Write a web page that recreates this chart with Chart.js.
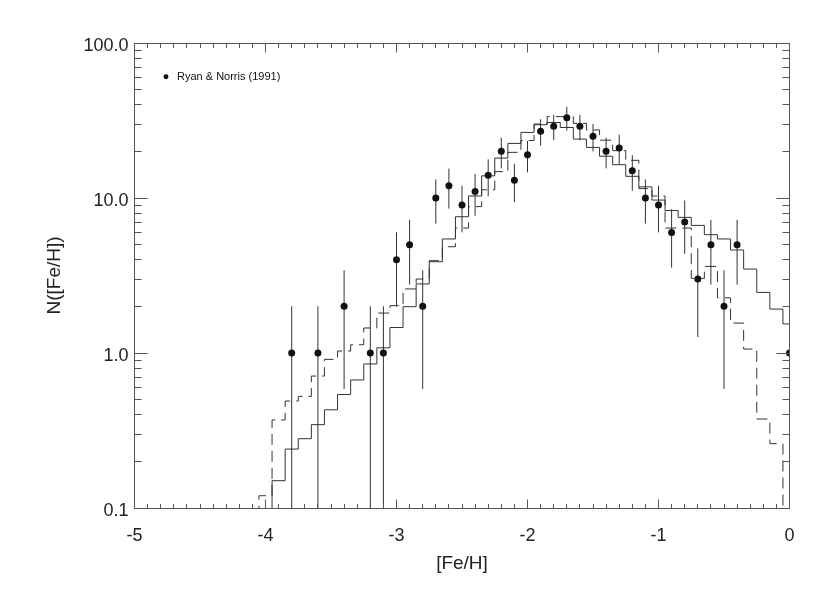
<!DOCTYPE html>
<html lang="en">
<head>
    <meta charset="UTF-8">
    <title>N([Fe/H]) distribution</title>
    <script src="https://cdn.jsdelivr.net/npm/chart.js"></script>
    <style>
        html, body { margin: 0; padding: 0; background: #fff; }
        #wrap { width: 830px; height: 593px; }
    </style>
</head>
<body>
    <div id="wrap"><canvas id="mdfChart" width="830" height="593"></canvas></div>

    <script>
        // model histogram bins (centres), 0.1 dex wide
        const binCenters = [-4.1, -4.0, -3.9, -3.8, -3.7, -3.6, -3.5, -3.4, -3.3, -3.2, -3.1, -3.0,
            -2.9, -2.8, -2.7, -2.6, -2.5, -2.4, -2.3, -2.2, -2.1, -2.0, -1.9, -1.8, -1.7, -1.6,
            -1.5, -1.4, -1.3, -1.2, -1.1, -1.0, -0.9, -0.8, -0.7, -0.6, -0.5, -0.4, -0.3, -0.2, -0.1, 0.0];
        const binWidth = 0.1;

        // solid model; values under 0.1 sit below the plot floor
        const modelSolid = [0.05, 0.07, 0.15, 0.24, 0.28, 0.345, 0.43, 0.54, 0.67, 0.85, 1.08, 1.46,
            1.99, 2.79, 3.88, 5.44, 7.57, 10.3, 13.9, 18.1, 22.5, 26.5, 29.7, 30.7, 28.5, 24.0,
            21.2, 18.6, 16.4, 13.8, 11.8, 9.7, 8.3, 7.5, 6.66, 5.8, 5.44, 4.62, 3.48, 2.46, 1.92, 1.54];

        // dashed model
        const modelDashed = [0.05, 0.12, 0.37, 0.49, 0.525, 0.71, 0.91, 1.03, 1.13, 1.45, 1.81, 2.02,
            2.59, 3.0, 3.94, 4.85, 6.4, 8.8, 11.3, 14.8, 19.7, 23.5, 30.0, 33.5, 33.5, 30.3,
            27.5, 23.6, 20.2, 17.5, 11.5, 10.3, 6.4, 6.4, 3.03, 3.62, 2.27, 1.56, 1.06, 0.375, 0.26, 0.05];

        // Ryan & Norris (1991) counts
        const obsFeH = [-3.8, -3.6, -3.4, -3.2, -3.1, -3.0, -2.9, -2.8, -2.7, -2.6, -2.5, -2.4, -2.3,
            -2.2, -2.1, -2.0, -1.9, -1.8, -1.7, -1.6, -1.5, -1.4, -1.3, -1.2, -1.1, -1.0, -0.9,
            -0.8, -0.7, -0.6, -0.5, -0.4, 0.0];
        const obsCount = [1, 1, 2, 1, 1, 4, 5, 2, 10, 12, 9, 11, 14, 20, 13, 19, 27, 29, 33, 29, 25,
            20, 21, 15, 10, 9, 6, 7, 3, 5, 2, 5, 1];

        const xTickValues = [-5, -4, -3, -2, -1, 0];
        const xMinorStep = 0.1;
        const yTickValues = [0.1, 1, 10, 100];

        const fontFamily = "'Liberation Sans', Arial, Helvetica, sans-serif";
        const axisColor = '#555';
        const lineColor = '#333';

        // histogram -> left-edge points for a stepped line
        function stepPoints(values) {
            const pts = binCenters.map((c, i) => ({ x: c - binWidth / 2, y: values[i] }));
            const last = binCenters.length - 1;
            pts.push({ x: binCenters[last] + binWidth / 2, y: values[last] });
            return pts;
        }

        // Poisson error bars, N +/- sqrt(N); a lower end of 0 is pushed off the bottom
        const errorBarData = obsFeH.flatMap((x, i) => {
            const s = Math.sqrt(obsCount[i]);
            return [{ x, y: Math.max(obsCount[i] - s, 0.01) }, { x, y: obsCount[i] + s }, { x, y: null }];
        });

        // IDL-like frame with inward ticks on all four sides
        const frameTicks = {
            id: 'frameTicks',
            afterDatasetsDraw(chart) {
                const { ctx, chartArea: a, scales: { x, y } } = chart;
                const al = (p) => Math.round(p - 0.5) + 0.5;
                const left = al(a.left), right = al(a.right), top = al(a.top), bottom = al(a.bottom);
                ctx.save();
                ctx.strokeStyle = axisColor;
                ctx.lineWidth = 1;
                ctx.beginPath();
                ctx.moveTo(left, top); ctx.lineTo(right, top); ctx.lineTo(right, bottom);

                const xMin = xTickValues[0], xMax = xTickValues[xTickValues.length - 1];
                const nX = Math.round((xMax - xMin) / xMinorStep);
                for (let i = 0; i <= nX; i++) {
                    const px = al(x.getPixelForValue(xMin + i * xMinorStep));
                    const len = i % 10 === 0 ? 9 : 4.5;
                    ctx.moveTo(px, bottom); ctx.lineTo(px, bottom - len);
                    ctx.moveTo(px, top); ctx.lineTo(px, top + len);
                }
                for (let d = 0; d < yTickValues.length; d++) {
                    const kMax = d === yTickValues.length - 1 ? 1 : 9;
                    for (let k = 1; k <= kMax; k++) {
                        const py = al(y.getPixelForValue(k * yTickValues[d]));
                        const len = k === 1 ? 13 : 7;
                        ctx.moveTo(left, py); ctx.lineTo(left + len, py);
                        ctx.moveTo(right, py); ctx.lineTo(right - len, py);
                    }
                }
                ctx.stroke();
                ctx.restore();
            }
        };

        const ctx = document.getElementById('mdfChart').getContext('2d');
        new Chart(ctx, {
            type: 'line',
            data: {
                datasets: [
                    {
                        label: 'Ryan & Norris (1991)',
                        data: obsFeH.map((x, i) => ({ x, y: obsCount[i] })),
                        showLine: false,
                        pointStyle: 'circle',
                        pointRadius: 3.5,
                        pointHoverRadius: 3.5,
                        pointBorderWidth: 0,
                        pointBackgroundColor: '#111',
                        backgroundColor: '#111',
                        borderColor: '#111',
                        clip: 0
                    },
                    {
                        label: 'errors',
                        data: errorBarData,
                        borderColor: lineColor,
                        borderWidth: 1,
                        pointRadius: 0,
                        spanGaps: false
                    },
                    {
                        label: 'model',
                        data: stepPoints(modelSolid),
                        stepped: true,
                        borderColor: lineColor,
                        borderWidth: 1,
                        pointRadius: 0
                    },
                    {
                        label: 'model (dashed)',
                        data: stepPoints(modelDashed),
                        stepped: true,
                        borderColor: lineColor,
                        borderWidth: 1,
                        borderDash: [11, 6],
                        pointRadius: 0
                    }
                ]
            },
            options: {
                responsive: false,
                animation: false,
                events: [],
                layout: { padding: { left: 0, right: 40.5, top: 43, bottom: 0 } },
                scales: {
                    x: {
                        type: 'linear',
                        min: -5,
                        max: 0,
                        afterFit: (s) => { s.height = 85; },
                        afterBuildTicks: (s) => { s.ticks = xTickValues.map(v => ({ value: v })); },
                        grid: { display: false, drawTicks: false },
                        border: { display: true, color: axisColor, width: 1 },
                        ticks: {
                            autoSkip: false,
                            maxRotation: 0,
                            padding: 17,
                            color: '#222',
                            font: { family: fontFamily, size: 18 },
                            callback: (v) => v.toFixed(0)
                        },
                        title: {
                            display: true,
                            text: '[Fe/H]',
                            color: '#222',
                            font: { family: fontFamily, size: 19 },
                            padding: { top: 0, bottom: 18 }
                        }
                    },
                    y: {
                        type: 'logarithmic',
                        min: 0.1,
                        max: 100,
                        afterFit: (s) => { s.width = 134.5; },
                        afterBuildTicks: (s) => { s.ticks = yTickValues.map(v => ({ value: v })); },
                        grid: { display: false, drawTicks: false },
                        border: { display: true, color: axisColor, width: 1 },
                        ticks: {
                            autoSkip: false,
                            padding: 6,
                            labelOffset: 3,
                            color: '#222',
                            font: { family: fontFamily, size: 18 },
                            callback: (v) => Number(v).toFixed(1)
                        },
                        title: {
                            display: true,
                            text: 'N([Fe/H])',
                            color: '#222',
                            font: { family: fontFamily, size: 19 },
                            padding: { top: 43, bottom: 0 }
                        }
                    }
                },
                plugins: {
                    tooltip: { enabled: false },
                    legend: {
                        position: 'chartArea',
                        align: 'start',
                        // empty title only pushes the entry down into the plot
                        title: {
                            display: true,
                            text: '',
                            font: { family: fontFamily, size: 10 },
                            padding: { top: 33.2, bottom: 0 }
                        },
                        labels: {
                            filter: (item) => item.datasetIndex === 0,
                            usePointStyle: true,
                            boxWidth: 11,
                            boxHeight: 3.5,
                            padding: 26,
                            color: '#111',
                            font: { family: fontFamily, size: 11 }
                        }
                    }
                }
            },
            plugins: [frameTicks]
        });
    </script>
</body>
</html>
